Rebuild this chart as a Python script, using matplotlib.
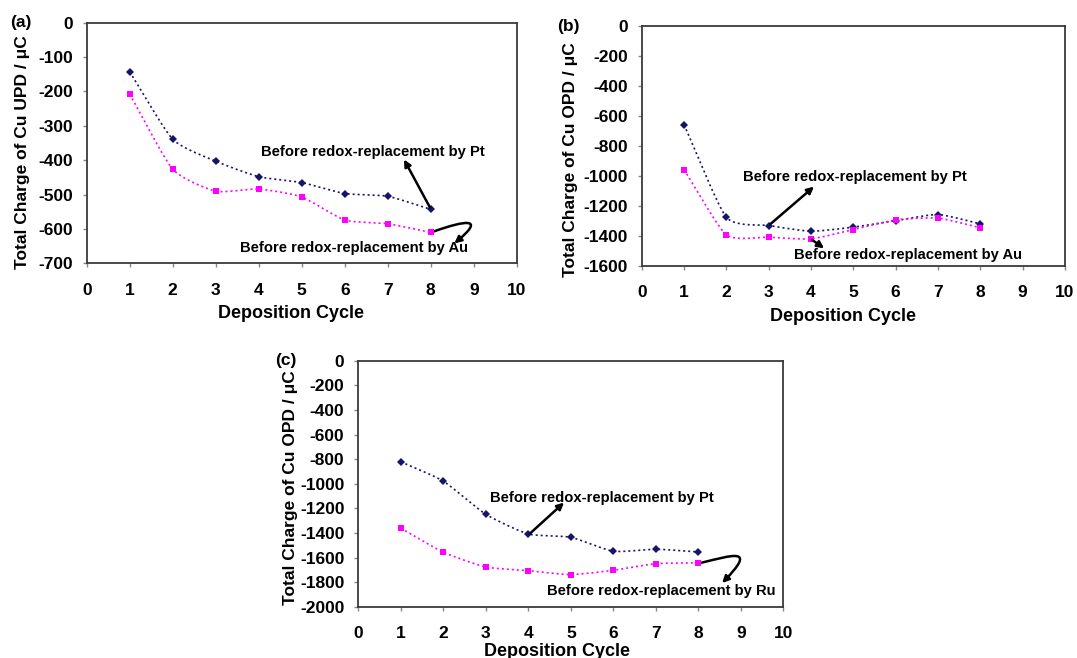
import numpy as np
import matplotlib
matplotlib.use("Agg")
import matplotlib.pyplot as plt
from matplotlib.patches import FancyArrowPatch
from matplotlib.path import Path

plt.rcParams['font.family'] = ['Liberation Sans', 'DejaVu Sans']
plt.rcParams['font.weight'] = 'bold'
plt.rcParams['axes.unicode_minus'] = False

cycles = [1, 2, 3, 4, 5, 6, 7, 8]

a_pt = [-143, -339, -403, -448, -465, -497, -505, -543]
a_au = [-208, -426, -490, -484, -507, -574, -585, -610]

b_pt = [-658, -1275, -1330, -1368, -1341, -1298, -1257, -1319]
b_au = [-958, -1392, -1408, -1419, -1357, -1293, -1281, -1345]

c_pt = [-821, -978, -1247, -1407, -1434, -1547, -1531, -1553]
c_ru = [-1360, -1555, -1675, -1705, -1737, -1702, -1648, -1642]

NAVY = '#14146a'
MAG = '#ff00ff'
W, H = 1077.0, 658.0


def smooth(x, y, n=24):
    x = np.asarray(x, float)
    y = np.asarray(y, float)
    P = np.column_stack([x, y])
    P = np.vstack([P[0] - (P[1] - P[0]), P, P[-1] + (P[-1] - P[-2])])
    out = []
    t = np.linspace(0, 1, n)
    for i in range(1, len(P) - 2):
        p0, p1, p2, p3 = P[i - 1], P[i], P[i + 1], P[i + 2]
        m1 = (p2 - p0) / 2 * 0.6
        m2 = (p3 - p1) / 2 * 0.6
        h00 = 2 * t**3 - 3 * t**2 + 1
        h10 = t**3 - 2 * t**2 + t
        h01 = -2 * t**3 + 3 * t**2
        h11 = t**3 - t**2
        seg = (h00[:, None] * p1 + h10[:, None] * m1 + h01[:, None] * p2 + h11[:, None] * m2)
        out.append(seg if i == 1 else seg[1:])
    s = np.vstack(out)
    return s[:, 0], s[:, 1]


def series(ax, y, color, marker, ms):
    sx, sy = smooth(cycles, y)
    ax.plot(sx, sy, linestyle=(0, (1.2, 1.8)), color=color, lw=1.2)
    ax.plot(cycles, y, linestyle='none', marker=marker, color=color,
            markersize=ms, markeredgewidth=0)


def add_axes(left, top, right, bottom):
    return fig.add_axes([left / W, 1 - bottom / H, (right - left) / W, (bottom - top) / H])


def style(ax, ymin, ystep):
    ax.set_xlim(0, 10)
    ax.set_ylim(ymin, 0)
    ax.set_xticks(range(0, 11))
    ax.set_yticks(np.arange(ymin, 1, ystep))
    for s in ax.spines.values():
        s.set_color('#3a3a3a')
        s.set_linewidth(1.3)
    ax.tick_params(direction='out', length=3, width=1, color='#888888',
                   labelsize=12.5)
    ax.tick_params(axis='x', pad=11)
    ax.tick_params(axis='y', pad=7)
    for lab in ax.get_xticklabels() + ax.get_yticklabels():
        lab.set_fontweight('bold')


def labels(ylabel, ylx, yly, xlx, xly, plabel, plx, ply):
    fig.text(ylx / W, 1 - yly / H, ylabel, rotation=90, ha='center', va='center',
             fontsize=12.5, fontweight='bold')
    fig.text(xlx / W, 1 - xly / H, 'Deposition Cycle', ha='center', va='baseline',
             fontsize=13, fontweight='bold')
    fig.text(plx / W, 1 - ply / H, plabel, ha='left', va='center',
             fontsize=12.5, fontweight='bold')


def note(ax, x, y, s):
    ax.text(x, y, s, fontsize=10.6, fontweight='bold', ha='center', va='center')


def arrow_straight(ax, start, end):
    ax.annotate('', xy=end, xytext=start,
                arrowprops=dict(arrowstyle='-|>', color='black', lw=1.8,
                                mutation_scale=10, shrinkA=0, shrinkB=0))


def arrow_hook(ax, start, ctrl1, ctrl2, end):
    path = Path([start, ctrl1, ctrl2, end],
                [Path.MOVETO, Path.CURVE4, Path.CURVE4, Path.CURVE4])
    p = FancyArrowPatch(path=path, arrowstyle='-|>', color='black', lw=1.8,
                        mutation_scale=10, shrinkA=0, shrinkB=0)
    ax.add_patch(p)


fig = plt.figure(figsize=(10.77, 6.58), dpi=100)

# (a)
axa = add_axes(86.7, 22.7, 516.7, 263.3)
series(axa, a_pt, NAVY, 'D', 4)
series(axa, a_au, MAG, 's', 5)
style(axa, -700, 100)
labels('Total Charge of Cu UPD / μC', 22.3, 152, 291, 318, '(a)', 10, 23)
note(axa, 6.66, -377, 'Before redox-replacement by Pt')
arrow_straight(axa, (7.98, -537), (7.38, -398))
note(axa, 6.22, -656, 'Before redox-replacement by Au')
arrow_hook(axa, (8.08, -607), (8.8, -575), (9.3, -565), (8.55, -642))

# (b)
axb = add_axes(641.7, 26, 1065, 266)
series(axb, b_pt, NAVY, 'D', 4)
series(axb, b_au, MAG, 's', 5)
style(axb, -1600, 200)
labels('Total Charge of Cu OPD / μC', 570, 160, 843.5, 321, '(b)', 557, 26)
note(axb, 5.03, -1005, 'Before redox-replacement by Pt')
arrow_straight(axb, (3.05, -1318), (4.07, -1071))
note(axb, 6.3, -1527, 'Before redox-replacement by Au')
arrow_straight(axb, (4.02, -1425), (4.31, -1482))

# (c)
axc = add_axes(358.3, 360.7, 783.3, 607)
series(axc, c_pt, NAVY, 'D', 4)
series(axc, c_ru, MAG, 's', 5)
style(axc, -2000, 200)
labels('Total Charge of Cu OPD / μC', 290, 488, 557, 656, '(c)', 275, 361)
note(axc, 5.73, -1111, 'Before redox-replacement by Pt')
arrow_straight(axc, (4.05, -1400), (4.84, -1152))
note(axc, 7.12, -1870, 'Before redox-replacement by Ru')
arrow_hook(axc, (8.08, -1640), (8.8, -1580), (9.4, -1510), (8.56, -1805))

fig.savefig('out.png', dpi=100)
